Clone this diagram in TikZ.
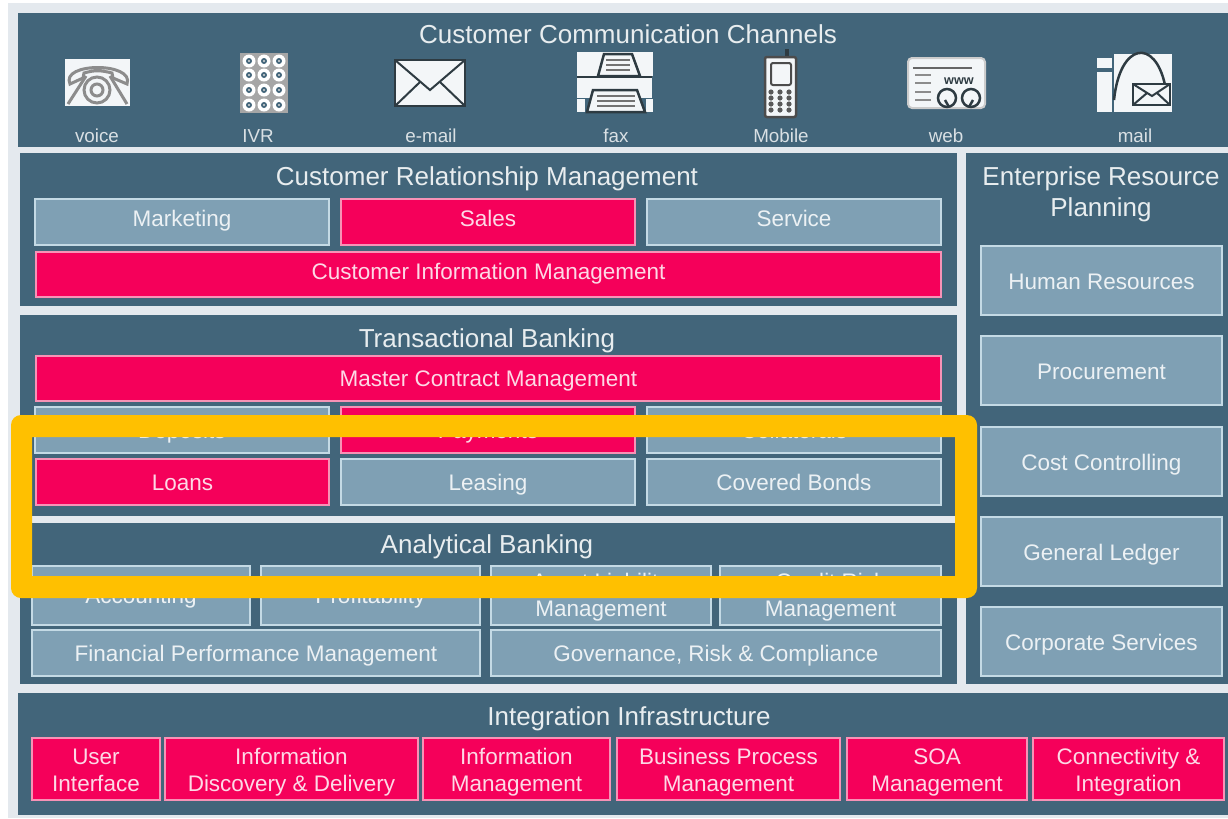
\documentclass[tikz,border=0pt]{standalone}
\usepackage{fontspec}
\setmainfont{Liberation Sans}
\definecolor{panelblue}{HTML}{42657A}
\definecolor{boxgrey}{HTML}{7FA0B4}
\definecolor{boxedge}{HTML}{C4DAE5}
\definecolor{boxred}{HTML}{F5005A}
\definecolor{rededge}{HTML}{F792B6}
\definecolor{gapgrey}{HTML}{E4E9EE}
\definecolor{framegold}{HTML}{FFC000}
\definecolor{icondark}{HTML}{2E3B42}
\definecolor{iconwhite}{HTML}{F3F6F8}
\tikzset{
	panel/.style={fill=panelblue},
	modgrey/.style={fill=boxgrey, draw=boxedge, line width=0.22mm},
	modred/.style={fill=boxred, draw=rededge, line width=0.22mm},
	modtext/.style={text=white!85!boxgrey, font=\fontsize{6.4}{7.7}\selectfont, align=center, inner sep=0pt, yshift=-0.3mm, execute at begin node=\strut, execute at end node=\strut},
	redtext/.style={modtext, text=white!85!boxred},
	erptext/.style={modtext, yshift=-0.1mm},
	intgtext/.style={redtext, yshift=-0.2mm},
	paneltitle/.style={text=white!88!panelblue, font=\fontsize{7.4}{8.8}\selectfont, align=center, inner sep=0pt, yshift=-0.3mm, execute at begin node=\strut, execute at end node=\strut},
	chanlabel/.style={text=white!80!panelblue, font=\fontsize{5.35}{6}\selectfont, inner sep=0pt, yshift=-0.4mm, execute at begin node=\strut},
	iconpaper/.style={fill=iconwhite},
	iconline/.style={draw=icondark, line width=0.25mm}
}

\begin{document}
\begin{tikzpicture}[x=0.1mm, y=-0.1mm]
		\useasboundingbox (0, 0) rectangle (1228, 818);
		%%%%% PANELS %%%%%
		\fill[white] (0, 0) rectangle (1228, 818);
		\fill[gapgrey] (8, 3) rectangle (1228, 818);
		\fill[panel] (18, 13) rectangle (1228, 147);
		\fill[panel] (20, 153) rectangle (957, 306);
		\fill[panel] (20, 315) rectangle (957, 516);
		\fill[panel] (20, 523) rectangle (957, 684);
		\fill[panel] (966, 153) rectangle (1228, 684);
		\fill[panel] (18, 693) rectangle (1228, 815);
		
		%%%%% CHANNELS %%%%%
		\node[paneltitle] (channels) at (628, 34) {Customer Communication Channels};
		
		% voice
		\fill[iconpaper] (65, 59) rectangle (130, 106);
		\draw[line width=0.3mm, color=black!45] (70, 84) .. controls (60, 62) and (135, 62) .. (127, 84) -- (113, 78) -- (112, 73) .. controls (100, 70) and (95, 70) .. (84, 73) -- (83, 78) -- cycle;
		\draw[line width=0.3mm, color=black!45] (68, 104) -- (86, 76);
		\draw[line width=0.3mm, color=black!45] (127, 104) -- (110, 76);
		\draw[line width=0.3mm, color=black!45] (97, 90) circle (13);
		\draw[line width=0.3mm, color=black!45] (97, 90) circle (6);
		
		% IVR
		\fill[color=black!35] (240, 53) rectangle (288, 113);
		\foreach \col in {249, 264, 279} {
			\foreach \row in {61, 75, 90, 105} {
				\fill[white] (\col, \row) circle (6.5);
				\fill[panelblue] (\col, \row) circle (3);
				\fill[color=black!15] (\col, \row) circle (1.2);
			}
		}
		
		% e-mail
		\draw[fill=iconwhite, iconline] (395, 60) rectangle (465, 106);
		\draw[iconline, line width=0.2mm] (395, 60) -- (430, 90) -- (465, 60);
		\draw[iconline, line width=0.2mm] (395, 106) -- (420, 82);
		\draw[iconline, line width=0.2mm] (465, 106) -- (440, 82);
		
		% fax
		\fill[iconpaper] (577, 52) rectangle (653, 76);
		\fill[iconpaper] (577, 99) rectangle (653, 112);
		\fill[panelblue] (585, 99) rectangle (646, 112);
		\draw[fill=iconwhite, iconline] (604, 54) -- (632, 54) -- (640, 76) -- (598, 76) -- cycle;
		\fill[iconpaper] (577, 77) rectangle (652, 98);
		\draw[iconline] (577, 77) -- (652, 77);
		\draw[fill=iconwhite, iconline] (593, 90) -- (637, 90) -- (645, 112) -- (587, 112) -- cycle;
		\foreach \row in {60, 65, 70} {
			\draw[line width=0.2mm, color=black!55] (606, \row) -- (630, \row);
		}
		\foreach \row in {96, 101, 106} {
			\draw[line width=0.2mm, color=black!55] (597, \row) -- (635, \row);
		}
		
		% Mobile
		\draw[line width=0.4mm, color=icondark] (787, 57) -- (787, 49);
		\draw[fill=iconwhite, draw=black!70, line width=0.25mm, rounded corners=0.2mm] (765, 57) rectangle (796, 117);
		\draw[fill=iconwhite, draw=black!70, line width=0.2mm, rounded corners=0.2mm] (771, 63) rectangle (791, 85);
		\foreach \col in {771, 780, 789} {
			\foreach \row in {92, 98, 104, 110} {
				\fill[color=black!65] (\col, \row) circle (2.6);
			}
		}
		
		% web
		\draw[fill=iconwhite, draw=black!20, line width=0.2mm, rounded corners=0.4mm] (908, 58) rectangle (985, 108);
		\draw[line width=0.25mm, color=black!60] (913, 68) -- (972, 68);
		\foreach \row in {75, 83, 92, 100} {
			\draw[line width=0.25mm, color=black!45] (915, \row) -- (931, \row);
		}
		\node[text=icondark, font=\fontsize{3.6}{4}\bfseries\selectfont, inner sep=0pt] (wwwtext) at (959, 81) {www};
		\draw[iconline] (947, 98) circle (9);
		\draw[iconline] (971, 98) circle (9);
		\draw[iconline] (945, 100) -- (949, 107);
		\draw[iconline] (973, 100) -- (969, 107);
		
		% mail
		\fill[iconpaper] (1097, 58) rectangle (1112, 68);
		\fill[iconpaper] (1097, 72) rectangle (1112, 112);
		\fill[iconpaper] (1114, 54) rectangle (1172, 112);
		\draw[iconline] (1114, 100) .. controls (1120, 42) and (1155, 38) .. (1165, 85);
		\draw[fill=iconwhite, iconline] (1133, 84) rectangle (1170, 105);
		\draw[iconline, line width=0.2mm] (1133, 84) -- (1152, 96) -- (1170, 84);
		\draw[iconline, line width=0.2mm] (1133, 105) -- (1147, 93);
		\draw[iconline, line width=0.2mm] (1170, 105) -- (1157, 93);
		
		\node[chanlabel] (voice) at (97, 134) {voice};
		\node[chanlabel] (ivr) at (258, 134) {IVR};
		\node[chanlabel] (email) at (431, 134) {e-mail};
		\node[chanlabel] (fax) at (616, 134) {fax};
		\node[chanlabel] (mobile) at (781, 134) {Mobile};
		\node[chanlabel] (web) at (946, 134) {web};
		\node[chanlabel] (mail) at (1135, 134) {mail};
		
		%%%%% CRM %%%%%
		\node[paneltitle] (crm) at (487, 176) {Customer Relationship Management};
		\draw[modgrey] (35, 199) rectangle node[modtext, yshift=0.35mm] (marketing) {Marketing} (329, 245);
		\draw[modred] (341, 199) rectangle node[redtext, yshift=0.35mm] (sales) {Sales} (635, 245);
		\draw[modgrey] (647, 199) rectangle node[modtext, yshift=0.35mm] (service) {Service} (941, 245);
		\draw[modred] (36, 252) rectangle node[redtext, yshift=0.3mm] (cim) {Customer Information Management} (941, 297);
		
		%%%%% TRANSACTIONAL %%%%%
		\node[paneltitle] (transact) at (487, 338) {Transactional Banking};
		\draw[modred] (36, 356) rectangle node[redtext] (mcm) {Master Contract Management} (941, 401);
		\draw[modgrey] (35, 407) rectangle node[modtext] (deposits) {Deposits} (329, 453);
		\draw[modred] (341, 407) rectangle node[redtext] (payments) {Payments} (635, 453);
		\draw[modgrey] (647, 407) rectangle node[modtext] (collaterals) {Collaterals} (941, 453);
		\draw[modred] (36, 459) rectangle node[redtext] (loans) {Loans} (329, 505);
		\draw[modgrey] (341, 459) rectangle node[modtext] (leasing) {Leasing} (635, 505);
		\draw[modgrey] (647, 459) rectangle node[modtext] (covered) {Covered Bonds} (941, 505);
		
		%%%%% ANALYTICAL %%%%%
		\node[paneltitle] (analytical) at (487, 544) {Analytical Banking};
		\draw[modgrey] (32, 566) rectangle node[modtext] (accounting) {Accounting} (250, 625);
		\draw[modgrey] (261, 566) rectangle node[modtext] (profit) {Profitability} (480, 625);
		\draw[modgrey] (491, 566) rectangle node[modtext] (assetliab) {Asset Liability\\Management} (711, 625);
		\draw[modgrey] (720, 566) rectangle node[modtext] (creditrisk) {Credit Risk\\Management} (941, 625);
		\draw[modgrey] (32, 630) rectangle node[modtext] (finperf) {Financial Performance Management} (480, 676);
		\draw[modgrey] (491, 630) rectangle node[modtext] (grc) {Governance, Risk \& Compliance} (941, 676);
		
		%%%%% ERP %%%%%
		\node[paneltitle] (erp) at (1101, 193.5) {Enterprise Resource\\Planning};
		\draw[modgrey] (981, 246) rectangle node[erptext] (humanres) {Human Resources} (1222, 315);
		\draw[modgrey] (981, 336) rectangle node[erptext] (procure) {Procurement} (1222, 405);
		\draw[modgrey] (981, 427) rectangle node[erptext] (costctrl) {Cost Controlling} (1222, 496);
		\draw[modgrey] (981, 517) rectangle node[erptext] (ledger) {General Ledger} (1222, 586);
		\draw[modgrey] (981, 607) rectangle node[erptext] (corpserv) {Corporate Services} (1222, 676);
		
		%%%%% INTEGRATION %%%%%
		\node[paneltitle] (integration) at (629, 716) {Integration Infrastructure};
		\draw[modred] (32, 738) rectangle node[intgtext] (userif) {User\\Interface} (160, 800);
		\draw[modred] (165, 738) rectangle node[intgtext] (infodisc) {Information\\Discovery \& Delivery} (418, 800);
		\draw[modred] (423, 738) rectangle node[intgtext] (infomgmt) {Information\\Management} (610, 800);
		\draw[modred] (617, 738) rectangle node[intgtext] (bpm) {Business Process\\Management} (840, 800);
		\draw[modred] (847, 738) rectangle node[intgtext] (soa) {SOA\\Management} (1027, 800);
		\draw[modred] (1033, 738) rectangle node[intgtext] (connect) {Connectivity \&\\Integration} (1224, 800);
		
		%%%%% FRAME %%%%%
		\fill[framegold, even odd rule, rounded corners=1mm] (11, 415) rectangle (977, 598) [sharp corners] (32, 437) rectangle (955, 576);
	\end{tikzpicture}
\end{document}
